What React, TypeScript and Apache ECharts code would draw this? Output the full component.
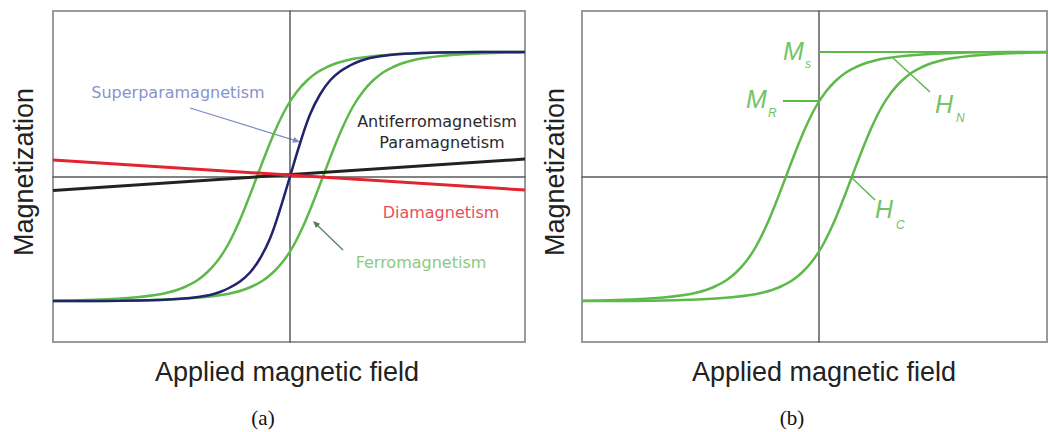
import React, { useEffect, useRef } from "react";
import * as echarts from "echarts";

// Field (H) and magnetization (M) in arbitrary units; saturation ≈ 124.5
const loopDescH = [-237, -203, -173, -153, -133, -123, -113, -103, -93, -83, -73, -63, -53, -43, -33, -23, -13, -3, 7, 17, 27, 37, 47, 57, 67, 87, 107, 137, 167, 207, 235];
const loopDescM = [-124.3, -123.6, -122.3, -120.8, -118.3, -116.3, -113.5, -109.5, -104, -96, -85, -70, -50, -26, 0, 26, 50, 70, 85, 96, 104, 109.5, 113.5, 116.3, 118.3, 120.8, 122.3, 123.6, 124.2, 124.5, 124.5];
const loopAscH = [-237, -207, -167, -137, -107, -87, -67, -57, -47, -37, -27, -17, -7, 3, 13, 23, 33, 43, 53, 63, 73, 83, 93, 103, 113, 123, 133, 153, 173, 203, 235];
const loopAscM = [-124.5, -124.5, -124.2, -123.6, -122.3, -120.8, -118.3, -116.3, -113.5, -109.5, -104, -96, -85, -70, -50, -26, 0, 26, 50, 70, 85, 96, 104, 109.5, 113.5, 116.3, 118.3, 120.8, 122.3, 123.6, 124.3];
const superH = [-237, -170, -130, -100, -80, -70, -60, -50, -40, -30, -20, -10, 0, 10, 20, 30, 40, 50, 60, 70, 80, 100, 130, 170, 235];
const superM = [-124.5, -124.3, -123.4, -121.5, -118.5, -115.5, -111, -105, -96, -82, -62, -33, 0, 33, 62, 82, 96, 105, 111, 115.5, 118.5, 121.5, 123.4, 124.3, 124.5];
const diaH = [-237, 235];
const diaM = [16.5, -13.5];
const paraH = [-237, 235];
const paraM = [-14, 17.5];
const msH = [0, 228];
const msM = [124.5, 124.5];
const mrH = [-36, 0];
const mrM = [75.5, 75.5];

const zip = (xs: number[], ys: number[]) => xs.map((x, i) => [x, ys[i]]);

const GREEN = "#5db94a";
const LABEL_GREEN = "#74c262";

function arrowHead(x1: number, y1: number, x2: number, y2: number, len: number, half: number) {
  const dx = x2 - x1, dy = y2 - y1;
  const l = Math.hypot(dx, dy);
  const ux = dx / l, uy = dy / l;
  const bx = x2 - ux * len, by = y2 - uy * len;
  return [[x2, y2], [bx - uy * half, by + ux * half], [bx + uy * half, by - ux * half]];
}

export default function App() {
  const ref = useRef<HTMLDivElement>(null);
  useEffect(() => {
    if (!ref.current) return;
    const chart = echarts.init(ref.current, undefined, { renderer: "svg" });
    const axisLineStyle = { color: "#5a5a5a", width: 1.5 };
    const mkX = (gi: number, max: number) => ({
      type: "value", gridIndex: gi, min: -237, max,
      axisLine: { show: true, onZero: true, lineStyle: axisLineStyle },
      axisTick: { show: false }, axisLabel: { show: false }, splitLine: { show: false },
    });
    const mkY = (gi: number) => ({
      type: "value", gridIndex: gi, min: -165.5, max: 165.5,
      axisLine: { show: true, onZero: true, lineStyle: axisLineStyle },
      axisTick: { show: false }, axisLabel: { show: false }, splitLine: { show: false },
    });
    const line = (name: string, data: number[][], color: string, width: number, gi: number) => ({
      name, type: "line", data, xAxisIndex: gi, yAxisIndex: gi,
      showSymbol: false, symbol: "none", smooth: 0.4,
      lineStyle: { color, width }, silent: true,
    });
    const font = (size: number, extra = "") => `${extra} ${size}px "Liberation Sans", Arial, sans-serif`.trim();
    const dejavu = (size: number) => `${size}px "DejaVu Sans", sans-serif`;
    const serif = (size: number) => `${size}px "Liberation Serif", "DejaVu Serif", serif`;
    const txt = (text: string, x: number, y: number, f: string, fill: string, align = "center", extra: any = {}) => ({
      type: "text", x, y, ...extra,
      style: { text, font: f, fill, textAlign: align, textVerticalAlign: "middle" },
    });
    const seg = (x1: number, y1: number, x2: number, y2: number, stroke: string, w: number) => ({
      type: "line", shape: { x1, y1, x2, y2 }, style: { stroke, lineWidth: w },
    });

    const graphics: any[] = [
      // axis titles
      txt("Magnetization", 24, 172, font(27), "#222", "center", { rotation: Math.PI / 2 }),
      txt("Magnetization", 555, 172, font(27), "#222", "center", { rotation: Math.PI / 2 }),
      txt("Applied magnetic field", 287, 372, font(27), "#222"),
      txt("Applied magnetic field", 824, 372, font(27), "#222"),
      txt("(a)", 263, 418, serif(21), "#111"),
      txt("(b)", 792, 418, serif(21), "#111"),
      // left panel annotations
      txt("Superparamagnetism", 178, 92, dejavu(16), "#8793cb"),
      seg(190, 108, 298, 141.4, "#7d89c4", 1.2),
      { type: "polygon", shape: { points: arrowHead(190, 108, 300, 142, 7, 3) }, style: { fill: "#7d89c4" } },
      txt("Antiferromagnetism", 437, 121, dejavu(16), "#2a2a2a"),
      txt("Paramagnetism", 442, 142, dejavu(16), "#2a2a2a"),
      txt("Diamagnetism", 441, 212, dejavu(16), "#e5505a"),
      txt("Ferromagnetism", 421, 262, dejavu(16), "#8ccb7a"),
      seg(343, 250, 315, 223, "#4f7f60", 1.2),
      { type: "polygon", shape: { points: arrowHead(343, 250, 313, 221, 7, 3) }, style: { fill: "#4f7f60" } },
      // right panel annotations
      txt("M", 783, 51, font(25, "italic"), LABEL_GREEN, "left"),
      txt("s", 805, 64, font(12, "italic"), LABEL_GREEN, "left"),
      txt("M", 746, 99, font(25, "italic"), LABEL_GREEN, "left"),
      txt("R", 768, 113, font(12, "italic"), LABEL_GREEN, "left"),
      txt("H", 935, 104, font(25, "italic"), LABEL_GREEN, "left"),
      txt("N", 956, 118, font(12, "italic"), LABEL_GREEN, "left"),
      txt("H", 875, 209, font(25, "italic"), LABEL_GREEN, "left"),
      txt("C", 896, 225, font(12, "italic"), LABEL_GREEN, "left"),
      seg(893, 58, 930, 92, GREEN, 1.5),
      seg(852, 178, 875, 200, GREEN, 1.5),
    ];

    chart.setOption({
      animation: false,
      backgroundColor: "#ffffff",
      grid: [
        { left: 53, top: 11, width: 472, height: 331, show: true, borderColor: "#9a9a9a", borderWidth: 2, backgroundColor: "transparent" },
        { left: 582, top: 11, width: 465, height: 331, show: true, borderColor: "#9a9a9a", borderWidth: 2, backgroundColor: "transparent" },
      ],
      xAxis: [mkX(0, 235), mkX(1, 228)],
      yAxis: [mkY(0), mkY(1)],
      series: [
        line("Ferromagnetism (descending)", zip(loopDescH, loopDescM), GREEN, 2.5, 0),
        line("Ferromagnetism (ascending)", zip(loopAscH, loopAscM), GREEN, 2.5, 0),
        line("Superparamagnetism", zip(superH, superM), "#22226e", 2.5, 0),
        line("Antiferromagnetism / Paramagnetism", zip(paraH, paraM), "#222222", 3, 0),
        line("Diamagnetism", zip(diaH, diaM), "#e3242f", 3, 0),
        line("Ms", zip(msH, msM), GREEN, 2, 1),
        line("MR", zip(mrH, mrM), GREEN, 2, 1),
        line("Loop (descending)", zip(loopDescH, loopDescM), GREEN, 2.5, 1),
        line("Loop (ascending)", zip(loopAscH, loopAscM), GREEN, 2.5, 1),
      ],
      graphic: graphics,
    });
    return () => chart.dispose();
  }, []);
  return (
    <div
      ref={ref}
      style={{ position: "fixed", left: 0, top: 0, width: 1048, height: 432, background: "#fff" }}
    />
  );
}
